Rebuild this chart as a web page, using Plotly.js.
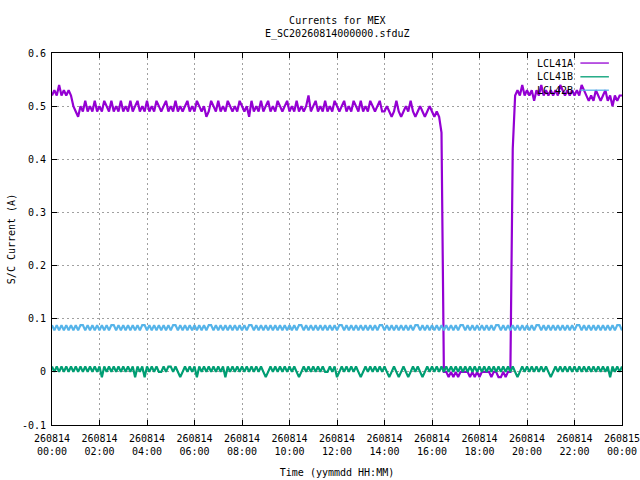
<!DOCTYPE html>
<html>
<head>
<meta charset="utf-8">
<script src="https://cdn.plot.ly/plotly-3.0.1.min.js"></script>
<style>
  html, body { margin: 0; padding: 0; background: #fff; }
  #plot { width: 640px; height: 480px; }
</style>
</head>
<body>
<div id="plot"></div>
<script>
// one sample every 6 minutes, 00:00 -> 24:00, one row per hour
const lcl41a = [
  0.52,0.53,0.52,0.54,0.52,0.53,0.52,0.53,0.52,0.50,
  0.49,0.48,0.50,0.49,0.51,0.49,0.50,0.49,0.51,0.49,
  0.50,0.49,0.51,0.50,0.49,0.51,0.49,0.50,0.49,0.51,
  0.49,0.50,0.49,0.51,0.49,0.50,0.51,0.49,0.50,0.49,
  0.51,0.49,0.50,0.49,0.51,0.50,0.49,0.50,0.51,0.49,
  0.50,0.49,0.51,0.49,0.50,0.49,0.50,0.51,0.49,0.50,
  0.49,0.51,0.50,0.49,0.50,0.48,0.49,0.51,0.50,0.49,
  0.51,0.49,0.50,0.49,0.51,0.50,0.49,0.50,0.49,0.51,
  0.50,0.49,0.50,0.48,0.51,0.49,0.50,0.49,0.51,0.49,
  0.50,0.51,0.49,0.50,0.49,0.51,0.50,0.49,0.50,0.51,
  0.49,0.50,0.49,0.51,0.49,0.50,0.49,0.50,0.52,0.49,
  0.50,0.51,0.49,0.50,0.49,0.51,0.49,0.50,0.49,0.51,
  0.50,0.49,0.50,0.51,0.49,0.50,0.49,0.51,0.50,0.49,
  0.51,0.49,0.50,0.49,0.51,0.50,0.49,0.50,0.51,0.49,
  0.49,0.50,0.49,0.48,0.49,0.51,0.49,0.48,0.49,0.50,
  0.49,0.51,0.49,0.48,0.49,0.50,0.49,0.48,0.49,0.50,
  0.49,0.48,0.49,0.48,0.45,0.00,0.00,-0.01,0.00,-0.01,
  0.00,-0.01,0.00,0.00,0.00,0.00,-0.01,0.00,-0.01,0.00,
  -0.01,0.00,0.00,0.00,0.00,-0.01,0.00,0.00,-0.01,-0.01,
  0.00,-0.01,0.00,0.00,0.42,0.52,0.53,0.52,0.54,0.52,
  0.53,0.52,0.53,0.51,0.53,0.52,0.54,0.52,0.53,0.52,
  0.53,0.52,0.53,0.52,0.54,0.53,0.52,0.53,0.52,0.53,
  0.52,0.53,0.52,0.54,0.53,0.52,0.51,0.52,0.51,0.53,
  0.52,0.51,0.52,0.53,0.51,0.52,0.50,0.52,0.51,0.52,
  0.52
]

const lcl41b = [
  0.01,0,0.01,0,0.01,0,0.01,0,0.01,0,
  0.01,0,0.01,0,0.01,0,0.01,0,0.01,0,
  0.01,-0.01,0.01,0,0.01,0,0.01,0,0.01,0,
  0.01,0,0.01,0,0.01,-0.01,0.01,0,0.01,-0.01,
  0.01,0,0.01,0,0.01,0,0,0.01,0,0.01,
  0.01,0,0.01,0,-0.01,0,0.01,0,0.01,0,
  0.01,-0.01,0.01,0,0.01,0,0.01,0,0.01,0,
  0.01,0,0.01,-0.01,0.01,0,0.01,0,0.01,0,
  0.01,0,0.01,0,0.01,0,0.01,0,0.01,0,
  -0.01,0,0.01,0,0.01,0,0.01,0,0.01,0,
  0.01,0,0.01,0,-0.01,0,0.01,0,0.01,0,
  0.01,0,0.01,0,0.01,0,0,0.01,0,0.01,
  -0.01,0,0.01,0,0.01,0,0.01,0,0.01,0,
  -0.01,0,0.01,0,0.01,0,0.01,0,0.01,0,
  0.01,0,-0.01,0,0.01,0,-0.01,0,0.01,0,
  -0.01,0,0.01,0,0.01,0,-0.01,0,0.01,0,
  0.01,0,0.01,0,0.01,0,0.01,0,0.01,0,
  0.01,0,0.01,0,0.01,0,0.01,0,0.01,0,
  0.01,0,0.01,0,0.01,0,0.01,0,0.01,0,
  0.01,0,0.01,0,0.01,0,-0.01,0,0.01,0,
  0.01,0,0.01,0,0.01,0,0.01,0,0.01,0,
  -0.01,0,0.01,0,0.01,0,0.01,0,0.01,0,
  0.01,0,0.01,0,0.01,0,0.01,0,0.01,0,
  0.01,0,0.01,0,0.01,-0.01,0.01,0,0.01,0,
  0.01
]

const lcl42b = [
  0.088,0.078,0.088,0.078,0.088,0.078,0.088,0.078,0.088,0.078,
  0.088,0.078,0.088,0.088,0.078,0.088,0.078,0.088,0.078,0.088,
  0.078,0.088,0.078,0.088,0.078,0.088,0.088,0.078,0.088,0.078,
  0.088,0.078,0.088,0.078,0.088,0.078,0.088,0.078,0.088,0.088,
  0.078,0.088,0.078,0.088,0.078,0.088,0.078,0.088,0.078,0.088,
  0.078,0.088,0.088,0.078,0.088,0.078,0.088,0.078,0.088,0.078,
  0.088,0.078,0.088,0.078,0.088,0.078,0.088,0.088,0.078,0.088,
  0.078,0.088,0.078,0.088,0.078,0.088,0.078,0.088,0.078,0.088,
  0.078,0.088,0.078,0.088,0.088,0.078,0.088,0.078,0.088,0.078,
  0.088,0.078,0.088,0.078,0.088,0.078,0.088,0.078,0.088,0.078,
  0.088,0.078,0.088,0.078,0.088,0.088,0.078,0.088,0.078,0.088,
  0.078,0.088,0.078,0.088,0.078,0.088,0.078,0.088,0.078,0.088,
  0.078,0.088,0.088,0.078,0.088,0.078,0.088,0.078,0.088,0.078,
  0.088,0.078,0.088,0.078,0.088,0.078,0.088,0.078,0.088,0.088,
  0.078,0.088,0.078,0.088,0.078,0.088,0.078,0.088,0.078,0.088,
  0.078,0.088,0.078,0.088,0.088,0.078,0.088,0.078,0.088,0.078,
  0.088,0.078,0.088,0.078,0.088,0.078,0.088,0.078,0.088,0.078,
  0.088,0.078,0.088,0.088,0.078,0.088,0.078,0.088,0.078,0.088,
  0.078,0.088,0.078,0.088,0.078,0.088,0.078,0.088,0.088,0.078,
  0.088,0.078,0.088,0.078,0.088,0.078,0.088,0.078,0.088,0.078,
  0.088,0.078,0.088,0.078,0.088,0.088,0.078,0.088,0.078,0.088,
  0.078,0.088,0.078,0.088,0.078,0.088,0.078,0.088,0.078,0.088,
  0.078,0.088,0.088,0.078,0.088,0.078,0.088,0.078,0.088,0.078,
  0.088,0.078,0.088,0.078,0.088,0.078,0.088,0.078,0.088,0.088,
  0.078
]

const seriesNames = ['LCL41A', 'LCL41B', 'LCL42B']
const seriesColors = ['#9400d3', '#009e73', '#56b4e9']

const tickHours = [0, 2, 4, 6, 8, 10, 12, 14, 16, 18, 20, 22, 24]
const tickDays = ['260814','260814','260814','260814','260814','260814','260814',
                  '260814','260814','260814','260814','260814','260815']
const tickClock = ['00:00','02:00','04:00','06:00','08:00','10:00','12:00',
                   '14:00','16:00','18:00','20:00','22:00','00:00']
const yTicks = [-0.1, 0, 0.1, 0.2, 0.3, 0.4, 0.5, 0.6]
const yTickText = ['-0.1', '0', '0.1', '0.2', '0.3', '0.4', '0.5', '0.6']

const hours = lcl41a.map((_, i) => i * 0.1)
const FONT = 'DejaVu Sans Mono, Liberation Mono, monospace'

let traces = [lcl41a, lcl41b, lcl42b].map((y, k) => ({
  x: hours,
  y,
  type: 'scatter',
  mode: 'lines',
  name: seriesNames[k],
  line: {color: seriesColors[k], width: 2.2},
  showlegend: false,
}))

// gnuplot style key: text right aligned, sample line on its right
let keyY = [0.973, 0.936, 0.900]
let annotations = seriesNames.map((n, k) => ({
  text: n, xref: 'paper', yref: 'paper', x: 0.918, y: keyY[k],
  xanchor: 'right', yanchor: 'middle', showarrow: false,
  font: {family: FONT, size: 10, color: '#000'},
}))
let shapes = seriesColors.map((c, k) => ({
  type: 'line', xref: 'paper', yref: 'paper',
  x0: 0.927, x1: 0.977, y0: keyY[k], y1: keyY[k],
  line: {color: c, width: 1.3},
}))

let axisCommon = {
  showline: true, linecolor: '#000', linewidth: 1, mirror: 'ticks',
  ticks: 'inside', ticklen: 5, tickcolor: '#000',
  showgrid: true, gridcolor: '#a0a0a0', griddash: '2px,3px', gridwidth: 1,
  zeroline: false,
  tickfont: {family: FONT, size: 10, color: '#000'},
}

Plotly.newPlot('plot', traces, {
  width: 640, height: 480,
  margin: {l: 52, r: 18, t: 53, b: 55},
  paper_bgcolor: '#fff', plot_bgcolor: '#fff',
  font: {family: FONT, size: 10, color: '#000'},
  title: {
    text: 'Currents for MEX<br>E_SC20260814000000.sfduZ',
    x: 0.527, xanchor: 'center', y: 0.949, yanchor: 'top',
    font: {family: FONT, size: 10, color: '#000'},
  },
  xaxis: {
    ...axisCommon,
    range: [0, 24],
    tickvals: tickHours,
    ticktext: tickHours.map((h, i) => tickDays[i] + '<br>' + tickClock[i]),
    ticklabeloverflow: 'allow',
    ticklabelstandoff: 4,
    title: {text: 'Time (yymmdd HH:MM)', standoff: 12, font: {family: FONT, size: 10}},
  },
  yaxis: {
    ...axisCommon,
    range: [-0.1, 0.6],
    tickvals: yTicks,
    ticktext: yTickText,
    ticklabelstandoff: 3,
    title: {text: 'S/C Current (A)', standoff: 4, font: {family: FONT, size: 10}},
  },
  annotations,
  shapes,
}, {staticPlot: true})
</script>
</body>
</html>
